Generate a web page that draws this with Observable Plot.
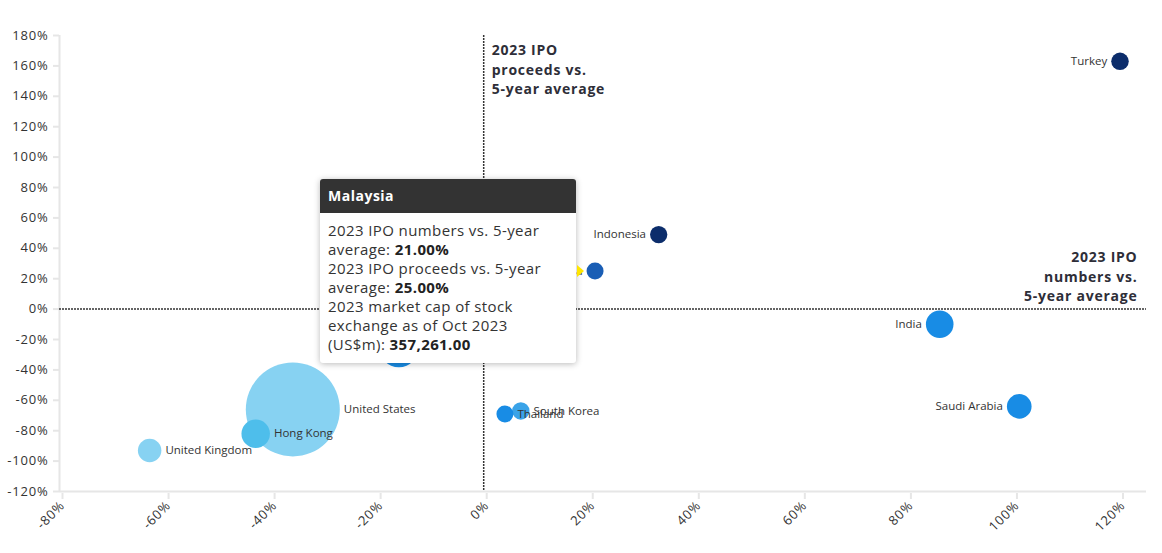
<!DOCTYPE html>
<html>
<head>
<meta charset="utf-8">
<script src="https://cdn.jsdelivr.net/npm/d3@7"></script>
<script src="https://cdn.jsdelivr.net/npm/@observablehq/plot@0.6"></script>
<style>
  html, body { margin: 0; padding: 0; background: #fff; }
  #wrap { position: relative; width: 1162px; height: 553px; font-family: "Open Sans", sans-serif; }
  #tip { position: absolute; width: 256px; background: #fff; border-radius: 3px;
         box-shadow: 0 1px 6px rgba(0,0,0,0.28); overflow: hidden; color: #333; }
  #tip .hd { background: #333; color: #fff; font-weight: bold; font-size: 14px; letter-spacing: 0.5px;
             height: 34px; line-height: 34px; padding-left: 8px; }
  #tip .bd { padding: 8px 8px 9px 8px; font-size: 15px; line-height: 19px; white-space: nowrap; letter-spacing: 0.4px; }
  #tip .bd b { color: #222; }
  #arrow { position: absolute; width: 0; height: 0; border-top: 6px solid transparent;
           border-bottom: 6px solid transparent; border-left: 7px solid #ffe600; }
</style>
</head>
<body>
<div id="wrap"></div>
<script>
// ---- data ----
const countries        = ["United States", "Mainland China", "Hong Kong", "India", "Saudi Arabia", "United Kingdom", "South Korea", "Turkey", "Indonesia", "Thailand", "Malaysia"];
const ipoNumbersVs5yr  = [-36, -16, -43, 86, 101, -63, 7, 120, 33, 4, 21];
const ipoProceedsVs5yr = [-66, -25, -82, -10, -64, -93, -67, 163, 49, -69, 25];
const marketCapUSDm    = [10900000, 2000000, 1000000, 940000, 750000, 680000, 375000, 380000, 370000, 355000, 357261];
const colorGroup       = ["g1", "g3", "g2", "g3", "g3", "g1", "g4", "g5", "g5", "g3", "g6"];
const groupNames       = ["g1", "g2", "g3", "g4", "g5", "g6"];
const groupColors      = ["#87d2f2", "#4ebeeb", "#188ce5", "#3aa3e8", "#0c2d6b", "#1a5eb5"];
const xTicks = [-80, -60, -40, -20, 0, 20, 40, 60, 80, 100, 120];
const yTicks = [-120, -100, -80, -60, -40, -20, 0, 20, 40, 60, 80, 100, 120, 140, 160, 180];
const hovered = "Malaysia";

const data = countries.map((c, i) => ({
  name: c, x: ipoNumbersVs5yr[i], y: ipoProceedsVs5yr[i], cap: marketCapUSDm[i], group: colorGroup[i]
}));
const dotsData = data.slice().sort((a, b) => b.cap - a.cap);

const rOpts = {type: "sqrt", domain: [0, d3.max(marketCapUSDm)], range: [0, 47]};
const rScale = Plot.scale({r: rOpts});

const labelMarks = data.map(d => {
  const side = d.x > 20 ? -1 : 1;
  return Plot.text([d], {
    x: "x", y: "y", text: "name",
    dx: side * (rScale.apply(d.cap) + 4),
    textAnchor: side > 0 ? "start" : "end",
    fontSize: 11.5, fill: "#333"
  });
});

const plot = Plot.plot({
  width: 1162,
  height: 553,
  marginLeft: 59,
  marginRight: 16,
  marginTop: 35,
  marginBottom: 62,
  style: {fontFamily: "Open Sans, sans-serif", fontSize: "13px", background: "#fff"},
  x: {domain: [-80, 125]},
  y: {domain: [-120, 180]},
  r: rOpts,
  color: {domain: groupNames, range: groupColors},
  marks: [
    Plot.ruleX([-80], {stroke: "#e6e6e6", strokeWidth: 2}),
    Plot.ruleY([-120], {stroke: "#e6e6e6", strokeWidth: 2}),
    Plot.axisY(yTicks, {tickFormat: d => d + "%", stroke: "#e6e6e6", strokeWidth: 2, fill: "#333", tickSize: 6, tickPadding: 5, fontSize: 13, label: null}),
    Plot.axisX(xTicks, {tickFormat: d => d + "%", tickRotate: -45, stroke: "#e6e6e6", strokeWidth: 2, fill: "#333", tickSize: 6, tickPadding: 4, dx: 3, dy: 2, fontSize: 13, label: null}),
    Plot.ruleX([0], {stroke: "#333", strokeWidth: 1.5, strokeDasharray: "2,1"}),
    Plot.ruleY([0], {stroke: "#333", strokeWidth: 1.5, strokeDasharray: "2,1"}),
    Plot.dot(dotsData, {x: "x", y: "y", r: "cap", fill: "group", stroke: "none"}),
    ...labelMarks,
    Plot.text(["2023 IPO\nproceeds vs.\n5-year average"], {
      x: 0, y: 180, dx: 8, dy: 6, textAnchor: "start", lineAnchor: "top",
      fontSize: 14, fontWeight: "bold", fill: "#2e2e38", lineHeight: 1.38
    }),
    Plot.text(["2023 IPO\nnumbers vs.\n5-year average"], {
      x: 125, y: 0, dx: -9, dy: -8, textAnchor: "end", lineAnchor: "bottom",
      fontSize: 14, fontWeight: "bold", fill: "#2e2e38", lineHeight: 1.38
    })
  ]
});

// widen glyph spacing to match the reference's wider typeface
plot.querySelectorAll('g[font-weight="bold"]').forEach(g => g.setAttribute("letter-spacing", "0.75"));
plot.querySelectorAll('g[aria-label="y-axis tick label"], g[aria-label="x-axis tick label"]').forEach(g => g.setAttribute("letter-spacing", "0.8"));

const wrap = document.getElementById("wrap");
wrap.appendChild(plot);

// tooltip for hovered point
const h = data.find(d => d.name === hovered);
const px = plot.scale("x").apply(h.x);
const py = plot.scale("y").apply(h.y);
const pr = rScale.apply(h.cap);
const fmtPct = v => v.toFixed(2) + "%";
const fmtNum = v => d3.format(",.2f")(v);
const tip = document.createElement("div");
tip.id = "tip";
tip.innerHTML =
  `<div class="hd">${h.name}</div>` +
  `<div class="bd">2023 IPO numbers vs. 5-year<br>average: <b>${fmtPct(h.x)}</b><br>` +
  `2023 IPO proceeds vs. 5-year<br>average: <b>${fmtPct(h.y)}</b><br>` +
  `2023 market cap of stock<br>exchange as of Oct 2023<br>(US$m): <b>${fmtNum(h.cap)}</b></div>`;
wrap.appendChild(tip);
const tw = 256;
const th = tip.offsetHeight;
const tipLeft = px - pr - 10 - tw;
tip.style.left = tipLeft + "px";
tip.style.top = (py - th / 2) + "px";
const arrow = document.createElement("div");
arrow.id = "arrow";
arrow.style.left = (tipLeft + tw + 1) + "px";
arrow.style.top = (py - 6) + "px";
wrap.appendChild(arrow);
</script>
</body>
</html>
